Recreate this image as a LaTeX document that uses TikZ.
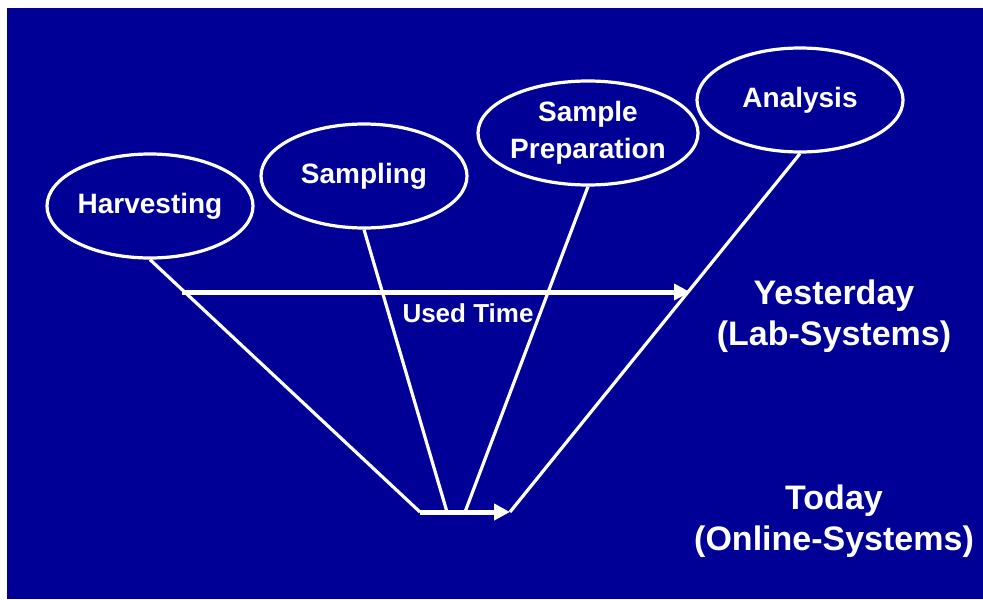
\documentclass[tikz,border=0pt]{standalone}
\usepackage{fontspec}
\setmainfont{Liberation Sans}
\usetikzlibrary{shapes.geometric, arrows.meta}
\definecolor{slideblue}{RGB}{0,0,150}
\tikzset{
  stage/.style={draw=white, line width=1.6pt, ellipse, minimum width=103pt, minimum height=52pt,
    inner sep=0pt, align=center, text=white, font=\fontsize{14}{18.5}\selectfont\bfseries},
  era/.style={text=white, align=center, font=\fontsize{17}{20.5}\selectfont\bfseries},
  feed/.style={white, line width=1.6pt},
  timeline/.style={white, line width=2.5pt, -{Triangle[length=8pt, width=8pt]}}
}

\begin{document}
\begin{tikzpicture}[x=0.5pt, y=-0.5pt]
% background
\fill[white] (0,0) rectangle (983,599);
\fill[slideblue] (7,8) rectangle (983,599);
% stages
\node[stage] (harvest) at (150,206) {Harvesting};
\node[stage] (sampling) at (364,176) {Sampling};
\node[stage] (prep) at (588,133) {Sample\\Preparation};
\node[stage] (analysis) at (800,100) {Analysis};
% time axes
\coordinate (labstart) at (182,292);
\coordinate (labstop) at (690,292);
\coordinate (onstart) at (420,512);
\coordinate (onstop) at (510,512);
\coordinate (m1) at (447,512);
\coordinate (m2) at (465,512);
\draw[feed] (harvest.south) -- (onstart);
\draw[feed] (sampling.south) -- (m1);
\draw[feed] (prep.south) -- (m2);
\draw[feed] (analysis.south) -- (onstop);
\draw[timeline] (labstart) -- (labstop);
\draw[timeline] (onstart) -- (onstop);
%Text
\node[text=white, font=\fontsize{13}{15}\selectfont\bfseries] (used) at (468,313) {Used Time};
\node[era] (yesterday) at (834,316) {Yesterday\\(Lab-Systems)};
\node[era] (today) at (834,521) {Today\\(Online-Systems)};
\end{tikzpicture}
\end{document}
